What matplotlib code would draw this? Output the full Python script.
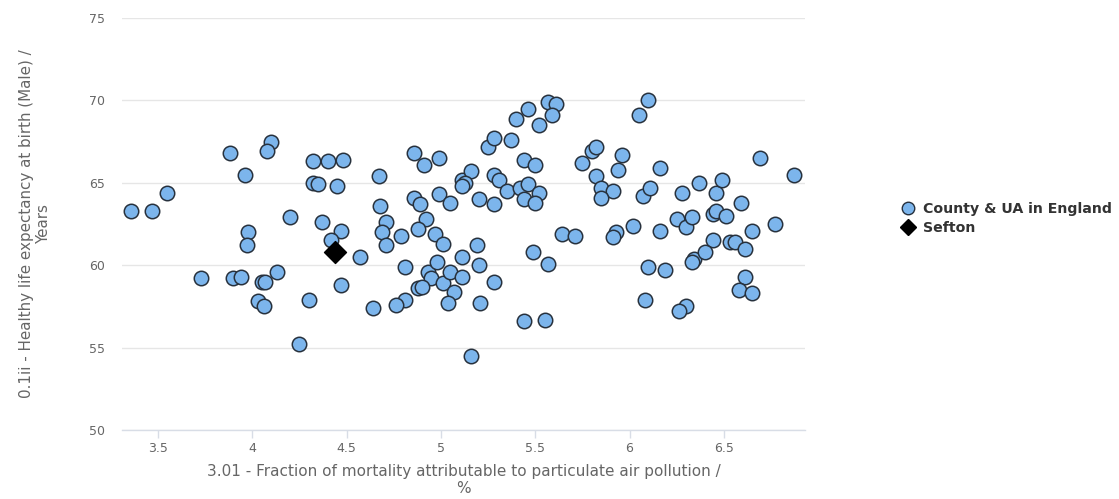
import matplotlib
matplotlib.use("Agg")
import matplotlib.pyplot as plt
from matplotlib.lines import Line2D

# Fraction of mortality attributable to particulate air pollution (%)
pollution = [
    3.36, 3.47, 3.55, 3.88, 4.10, 4.08, 3.96, 4.32, 4.40, 4.48,
    4.32, 4.35, 4.45, 4.20, 4.37, 4.47, 4.42, 3.98, 3.97, 3.73,
    3.90, 3.94, 4.13, 4.05, 4.07, 4.47, 4.03, 4.06, 4.30, 4.25,
    4.67, 4.68, 4.71, 4.69, 4.71, 4.57, 4.79, 4.86, 4.91, 4.99,
    4.86, 4.89, 4.99, 5.05, 4.92, 4.88, 4.97, 5.01, 4.81, 4.93,
    4.98, 4.95, 4.88, 4.90, 5.01, 5.05, 5.11, 5.11, 5.07, 5.04,
    4.81, 4.76, 4.64, 5.19, 5.20, 5.28, 5.21, 5.16, 5.11, 5.16,
    5.13, 5.11, 5.20, 5.28, 5.28, 5.31, 5.35, 5.25, 5.28, 5.37,
    5.40, 5.46, 5.52, 5.57, 5.61, 5.59, 5.44, 5.50, 5.42, 5.46,
    5.52, 5.44, 5.50, 5.49, 5.44, 5.55, 5.57, 5.64, 5.71, 5.75,
    5.80, 5.82, 5.82, 5.85, 5.91, 5.85, 5.96, 5.94, 5.93, 5.91,
    6.02, 6.16, 6.07, 6.11, 6.16, 6.10, 6.05, 6.10, 6.19, 6.08,
    6.30, 6.26, 6.28, 6.37, 6.46, 6.49, 6.59, 6.25, 6.30, 6.33,
    6.44, 6.46, 6.51, 6.44, 6.53, 6.56, 6.61, 6.65, 6.77, 6.69,
    6.87, 6.34, 6.40, 6.33, 6.61, 6.58, 6.65,
]

# Healthy life expectancy at birth, males (years)
life_expectancy = [
    63.3, 63.3, 64.4, 66.8, 67.5, 66.9, 65.5, 66.3, 66.3, 66.4,
    65.0, 64.9, 64.8, 62.9, 62.6, 62.1, 61.5, 62.0, 61.2, 59.2,
    59.2, 59.3, 59.6, 59.0, 59.0, 58.8, 57.8, 57.5, 57.9, 55.2,
    65.4, 63.6, 62.6, 62.0, 61.2, 60.5, 61.8, 66.8, 66.1, 66.5,
    64.1, 63.7, 64.3, 63.8, 62.8, 62.2, 61.9, 61.3, 59.9, 59.6,
    60.2, 59.2, 58.6, 58.7, 58.9, 59.6, 60.5, 59.3, 58.4, 57.7,
    57.9, 57.6, 57.4, 61.2, 60.0, 59.0, 57.7, 54.5, 65.2, 65.7,
    65.0, 64.8, 64.0, 63.7, 65.5, 65.2, 64.5, 67.2, 67.7, 67.6,
    68.9, 69.5, 68.5, 69.9, 69.8, 69.1, 66.4, 66.1, 64.7, 64.9,
    64.4, 64.0, 63.8, 60.8, 56.6, 56.7, 60.1, 61.9, 61.8, 66.2,
    66.9, 67.2, 65.4, 64.7, 64.5, 64.1, 66.7, 65.8, 62.0, 61.7,
    62.4, 62.1, 64.2, 64.7, 65.9, 70.0, 69.1, 59.9, 59.7, 57.9,
    57.5, 57.2, 64.4, 65.0, 64.4, 65.2, 63.8, 62.8, 62.3, 62.9,
    63.1, 63.3, 63.0, 61.5, 61.4, 61.4, 61.0, 62.1, 62.5, 66.5,
    65.5, 60.4, 60.8, 60.2, 59.3, 58.5, 58.3,
]

sefton_pollution = [4.44]
sefton_life_expectancy = [60.8]

series_labels = ["County & UA in England", "Sefton"]
x_ticks = [3.5, 4, 4.5, 5, 5.5, 6, 6.5]
x_tick_labels = ["3.5", "4", "4.5", "5", "5.5", "6", "6.5"]
y_ticks = [50, 55, 60, 65, 70, 75]
x_title = "3.01 - Fraction of mortality attributable to particulate air pollution /\n%"
y_title = "0.1ii - Healthy life expectancy at birth (Male) /\nYears"

W, H = 1119, 499
fig = plt.figure(figsize=(W / 100, H / 100), dpi=100)
ax = fig.add_axes([122 / W, 1 - 430 / H, (805 - 122) / W, (430 - 18) / H])

blue = "#7cb5ec"
edge = "#27313d"
label_grey = "#666666"
grid_grey = "#e6e6e6"

ax.scatter(pollution, life_expectancy, s=108, color=blue, edgecolors=edge,
           linewidths=1.1, zorder=3)
ax.scatter(sefton_pollution, sefton_life_expectancy, s=125, marker="D",
           color="black", edgecolors="black", zorder=4)

ax.set_xlim(3.31, 6.93)
ax.set_ylim(50, 75)
ax.set_xticks(x_ticks)
ax.set_xticklabels(x_tick_labels)
ax.set_yticks(y_ticks)

ax.grid(axis="y", color=grid_grey, linewidth=1)
ax.set_axisbelow(True)
for side in ["top", "right", "left"]:
    ax.spines[side].set_visible(False)
ax.spines["bottom"].set_color("#d8dde6")
ax.spines["bottom"].set_linewidth(1)

ax.tick_params(axis="x", length=6, width=1, color="#d8dde6", labelcolor=label_grey,
               labelsize=9, pad=3)
ax.tick_params(axis="y", length=0, labelcolor=label_grey, labelsize=9, pad=12.5)

ax.set_xlabel(x_title, color=label_grey, fontsize=11, linespacing=1.15, labelpad=6)
ax.set_ylabel(y_title, color=label_grey, fontsize=10.9, linespacing=1.15, labelpad=27)

handles = [
    Line2D([], [], linestyle="none", marker="o", markersize=9, markerfacecolor=blue,
           markeredgecolor=edge, markeredgewidth=1.0),
    Line2D([], [], linestyle="none", marker="D", markersize=8, markerfacecolor="black",
           markeredgecolor="black"),
]
leg = fig.legend(handles, series_labels, loc="upper left",
                 bbox_to_anchor=(888 / W, 1 - 189 / H), frameon=False,
                 handlelength=1.0, handletextpad=0.55, labelspacing=0.35,
                 prop={"weight": "bold", "size": 10.2})
for t in leg.get_texts():
    t.set_color("#333333")

fig.savefig("out.png", dpi=100)
